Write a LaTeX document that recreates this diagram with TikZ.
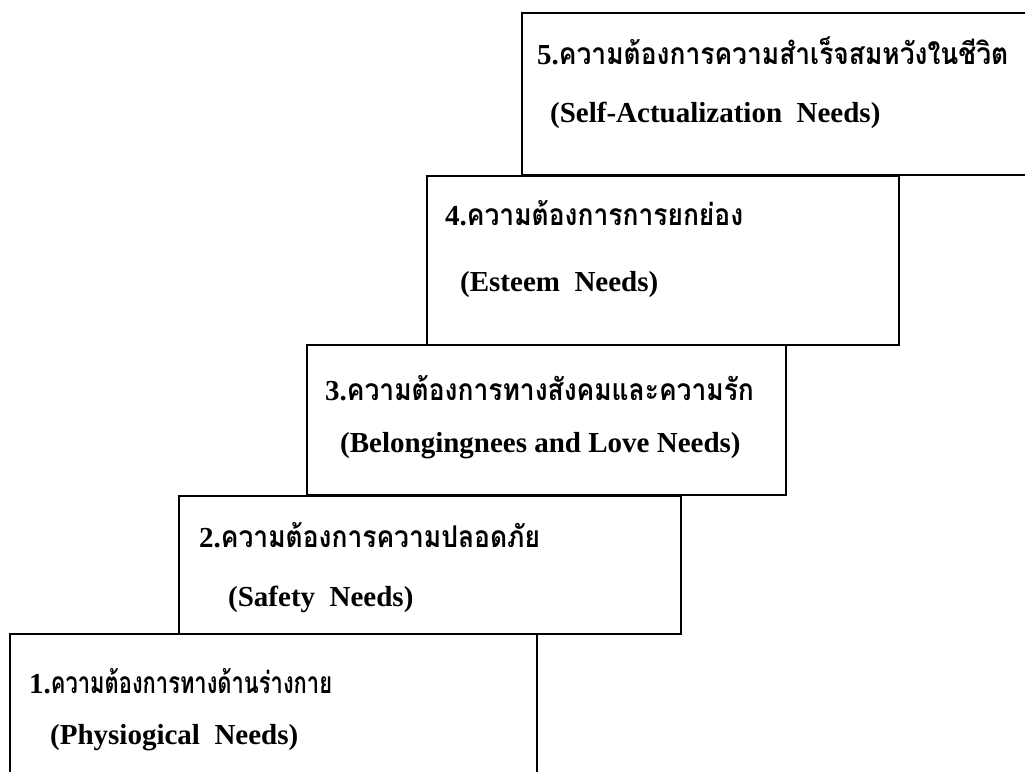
\documentclass[tikz,border=0pt]{standalone}
\usepackage{fontspec}
\setmainfont{Liberation Serif}
\newfontfamily\thaifont[Script=Thai,FakeStretch=0.88]{Loma}
\newfontfamily\thaifontn[Script=Thai,FakeStretch=0.73]{Loma}
\tikzset{
  stepbox/.style={draw=black, line width=1.6pt, rectangle, inner sep=0pt, anchor=north west},
  thline/.style={anchor=base west, inner sep=0pt, font=\fontsize{29}{34}\selectfont\bfseries},
  enline/.style={anchor=base west, inner sep=0pt, font=\fontsize{29}{34}\selectfont\bfseries},
}
\newcommand{\thtxt}[1]{{\thaifont\fontsize{30}{34}\selectfont\bfseries #1}}
\newcommand{\thtxtn}[1]{{\thaifontn\fontsize{30}{34}\selectfont\bfseries #1}}
\begin{document}
\begin{tikzpicture}[x=1pt,y=-1pt]
\useasboundingbox (0,0) rectangle (1025,771);
\clip (0,0) rectangle (1025,771);
% boxes
\node[stepbox, minimum width=519pt, minimum height=162pt] (b5) at (521,12) {};
\node[stepbox, minimum width=472pt, minimum height=169pt] (b4) at (426,175) {};
\node[stepbox, minimum width=479pt, minimum height=150pt] (b3) at (306,344) {};
\node[stepbox, minimum width=502pt, minimum height=138pt] (b2) at (178,495) {};
\node[stepbox, minimum width=527pt, minimum height=170pt] (b1) at (9,633) {};
% texts
\node[thline] (t5a) at (537,64) {5.\thtxt{ความต้องการความสำเร็จสมหวังในชีวิต}};
\node[enline] (t5b) at (550,122) {(Self-Actualization~~Needs)};
\node[thline] (t4a) at (445,225) {4.\thtxt{ความต้องการการยกย่อง}};
\node[enline] (t4b) at (460,291) {(Esteem~~Needs)};
\node[thline] (t3a) at (325,400) {3.\thtxt{ความต้องการทางสังคมและความรัก}};
\node[enline] (t3b) at (340,452) {(Belongingnees and Love Needs)};
\node[thline] (t2a) at (199,547) {2.\thtxt{ความต้องการความปลอดภัย}};
\node[enline] (t2b) at (228,606) {(Safety~~Needs)};
\node[thline] (t1a) at (29,693) {1.\thtxtn{ความต้องการทางด้านร่างกาย}};
\node[enline] (t1b) at (50,744) {(Physiogical~~Needs)};
\end{tikzpicture}
\end{document}
